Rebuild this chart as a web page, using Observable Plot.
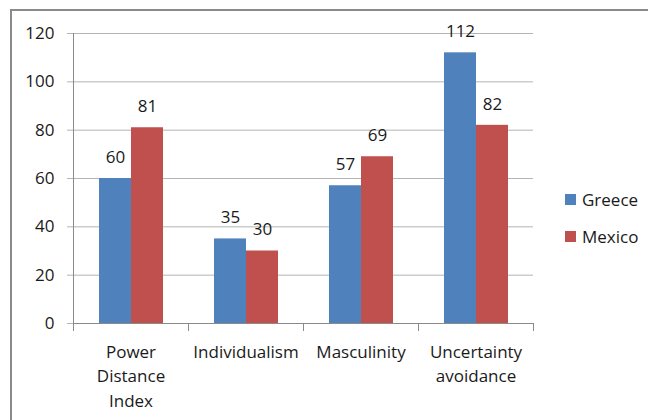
<!DOCTYPE html>
<html>
<head>
<meta charset="utf-8">
<script src="https://cdn.jsdelivr.net/npm/d3@7"></script>
<script src="https://cdn.jsdelivr.net/npm/@observablehq/plot@0.6"></script>
<style>
  html, body { margin: 0; padding: 0; background: #fff; }
  #wrap { position: relative; width: 648px; height: 420px; overflow: hidden; font-family: "Open Sans", sans-serif; }
  #border { position: absolute; left: 10px; top: 9px; width: 800px; height: 600px; border: 2px solid #8a8a8a; box-sizing: border-box; }
  #chart { position: absolute; left: 0; top: 0; }
  #legend { position: absolute; left: 565px; top: 186px; font-size: 17px; color: #1a1a1a; }
  .item { display: flex; align-items: center; height: 26px; margin-bottom: 11px; }
  .sw { width: 11px; height: 11px; margin-right: 6px; }
</style>
</head>
<body>
<div id="wrap">
  <div id="border"></div>
  <div id="chart"></div>
  <div id="legend"></div>
</div>
<script>
const categories = ["Power Distance Index", "Individualism", "Masculinity", "Uncertainty avoidance"];
const categoryLabels = ["Power\nDistance\nIndex", "Individualism", "Masculinity", "Uncertainty\navoidance"];
const series = ["Greece", "Mexico"];
const greece = [60, 35, 57, 112];
const mexico = [81, 30, 69, 82];
const colors = ["#4F81BD", "#C0504D"];
const yTicks = [0, 20, 40, 60, 80, 100, 120];

const rows = [];
categories.forEach((c, i) => {
  rows.push({category: c, series: series[0], value: greece[i]});
  rows.push({category: c, series: series[1], value: mexico[i]});
});
const labelOf = new Map(categories.map((c, i) => [c, categoryLabels[i]]));

const font = "Open Sans";
const ink = "#1a1a1a";
const plot = Plot.plot({
  width: 648,
  height: 420,
  marginLeft: 72,
  marginRight: 115,
  marginTop: 33,
  marginBottom: 97,
  style: {fontFamily: font, fontSize: "17px", color: ink, background: "transparent"},
  fx: {domain: categories, padding: 0, label: null},
  x: {domain: series, paddingInner: 0, paddingOuter: 0.746, axis: null},
  y: {domain: [0, 120], label: null},
  color: {domain: series, range: colors},
  marks: [
    Plot.gridY(yTicks, {stroke: "#b4b4b4", strokeOpacity: 1}),
    Plot.axisY(yTicks, {tickSize: 6, tickPadding: 13, stroke: "#b4b4b4", fill: ink, fontSize: 17, label: null}),
    Plot.barY(rows, {fx: "category", x: "series", y: "value", fill: "series"}),
    Plot.text(rows, {fx: "category", x: "series", y: "value", text: d => String(d.value), dy: -21, fontSize: 17, fill: ink}),
    Plot.ruleY([0], {stroke: "#8a8a8a"}),
    Plot.frame({anchor: "left", facetAnchor: "left", stroke: "#8a8a8a"}),
    Plot.frame({anchor: "left", stroke: "#8a8a8a", insetTop: 290, insetBottom: -7}),
    Plot.frame({anchor: "right", facetAnchor: "right", stroke: "#8a8a8a", insetTop: 290, insetBottom: -7}),
    Plot.axisFx({anchor: "bottom", tickSize: 0, tickPadding: 17, lineHeight: 1.44, fontSize: 17, fill: ink, label: null, tickFormat: d => labelOf.get(d)})
  ]
});
document.getElementById("chart").appendChild(plot);

const legend = document.getElementById("legend");
series.forEach((s, i) => {
  const item = document.createElement("div");
  item.className = "item";
  const sw = document.createElement("div");
  sw.className = "sw";
  sw.style.background = colors[i];
  const t = document.createElement("span");
  t.textContent = s;
  item.appendChild(sw);
  item.appendChild(t);
  legend.appendChild(item);
});
</script>
</body>
</html>
